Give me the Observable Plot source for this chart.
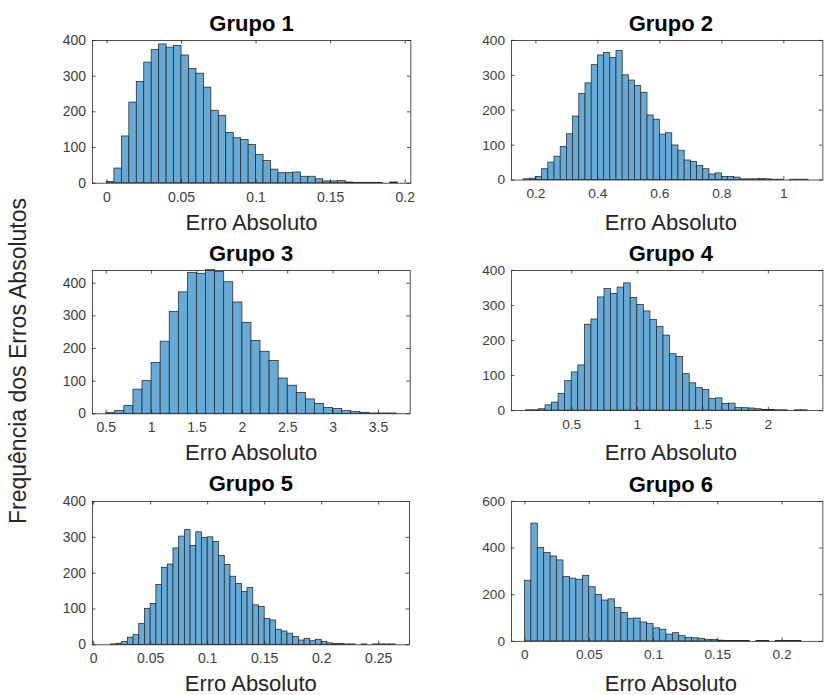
<!DOCTYPE html>
<html><head><meta charset="utf-8">
<script src="https://cdn.jsdelivr.net/npm/d3@7"></script>
<script src="https://cdn.jsdelivr.net/npm/@observablehq/plot@0.6"></script>
<style>
html,body{margin:0;padding:0;background:#fff;}
#root{position:relative;width:826px;height:695px;overflow:hidden;font-family:"Liberation Sans",Arial,Helvetica,sans-serif;}
.panel{position:absolute;}
</style></head><body><div id="root"></div>
<script>
// ---------- data ----------
const groupNames = ["Grupo 1", "Grupo 2", "Grupo 3", "Grupo 4", "Grupo 5", "Grupo 6"];
const xLabel = "Erro Absoluto";
const yLabel = "Frequência dos Erros Absolutos";

const grupo1BinStart = 0, grupo1BinWidth = 0.005;
const grupo1Counts = [3, 41, 131, 226, 284, 338, 373, 389, 380, 385, 358, 320, 307, 268, 203, 189, 141, 126, 121, 107, 79, 62, 38, 28, 28, 30, 18, 18, 11, 5, 5, 6, 2, 1, 1, 1, 1, 0, 2];

const grupo2BinStart = 0.16, grupo2BinWidth = 0.02;
const grupo2Counts = [2, 4, 9, 31, 50, 67, 95, 131, 182, 247, 277, 329, 357, 364, 350, 370, 300, 285, 269, 250, 185, 173, 130, 134, 99, 84, 56, 52, 40, 31, 16, 19, 9, 9, 7, 2, 2, 2, 3, 2, 1, 1, 0, 1, 1, 1];

const grupo3BinStart = 0.5, grupo3BinWidth = 0.1;
const grupo3Counts = [2, 9, 24, 74, 100, 156, 221, 312, 372, 432, 429, 440, 435, 403, 341, 278, 223, 190, 162, 108, 86, 64, 44, 30, 18, 15, 8, 6, 3, 1, 1, 1];

const grupo4BinStart = 0.15, grupo4BinWidth = 0.05;
const grupo4Counts = [1, 1, 4, 15, 23, 48, 84, 109, 129, 245, 260, 323, 347, 333, 351, 363, 321, 301, 283, 259, 239, 214, 161, 153, 104, 78, 64, 59, 33, 35, 19, 20, 8, 7, 6, 4, 2, 2, 1, 1, 0, 1, 1];

const grupo5BinStart = 0.015, grupo5BinWidth = 0.005;
const grupo5Counts = [1, 3, 8, 20, 27, 58, 100, 114, 167, 215, 224, 269, 302, 320, 276, 314, 298, 300, 287, 248, 223, 190, 170, 148, 159, 110, 106, 72, 68, 42, 37, 31, 22, 12, 16, 10, 14, 8, 4, 2, 2, 1, 1, 0, 1, 0, 1, 1, 1, 1];

const grupo6BinStart = 0, grupo6BinWidth = 0.005;
const grupo6Counts = [260, 505, 400, 379, 364, 347, 276, 269, 264, 281, 232, 199, 175, 180, 143, 122, 97, 98, 81, 74, 56, 50, 29, 35, 22, 15, 13, 11, 7, 6, 3, 2, 1, 1, 1, 0, 1, 1, 0, 1, 1, 1, 1];

const grupo1XTicks = [0, 0.05, 0.1, 0.15, 0.2];
const grupo2XTicks = [0.2, 0.4, 0.6, 0.8, 1];
const grupo3XTicks = [0.5, 1, 1.5, 2, 2.5, 3, 3.5];
const grupo4XTicks = [0.5, 1, 1.5, 2];
const grupo5XTicks = [0, 0.05, 0.1, 0.15, 0.2, 0.25];
const grupo6XTicks = [0, 0.05, 0.1, 0.15, 0.2];
const yTicks400 = [0, 100, 200, 300, 400];
const yTicks600 = [0, 200, 400, 600];

// ---------- layout ----------
const groups = [
  {start: grupo1BinStart, width: grupo1BinWidth, counts: grupo1Counts, xt: grupo1XTicks, yt: yTicks400, xd: [-0.0097, 0.2038], yd: [0, 400], fl: 92.3, fr: 410.7, ft: 40, fb: 182.7},
  {start: grupo2BinStart, width: grupo2BinWidth, counts: grupo2Counts, xt: grupo2XTicks, yt: yTicks400, xd: [0.121, 1.126], yd: [0, 400], fl: 511.7, fr: 830, ft: 40, fb: 182.7},
  {start: grupo3BinStart, width: grupo3BinWidth, counts: grupo3Counts, xt: grupo3XTicks, yt: yTicks400, xd: [0.349, 3.849], yd: [0, 439], fl: 92.3, fr: 410, ft: 270, fb: 413.3},
  {start: grupo4BinStart, width: grupo4BinWidth, counts: grupo4Counts, xt: grupo4XTicks, yt: yTicks400, xd: [0.04, 2.416], yd: [0, 400], fl: 511.7, fr: 830, ft: 270, fb: 413.3},
  {start: grupo5BinStart, width: grupo5BinWidth, counts: grupo5Counts, xt: grupo5XTicks, yt: yTicks400, xd: [-0.001, 0.277], yd: [0, 400], fl: 92.3, fr: 409.3, ft: 500.7, fb: 644},
  {start: grupo6BinStart, width: grupo6BinWidth, counts: grupo6Counts, xt: grupo6XTicks, yt: yTicks600, xd: [-0.0105, 0.2317], yd: [0, 600], fl: 511.7, fr: 830, ft: 501, fb: 644}
];

const root = document.getElementById("root");
const FONT = '"Liberation Sans", Arial, Helvetica, sans-serif';
const INK = "#262626";
const ml = 50, mr = 4, mt = 4, mb = 34, tl = 3.5;

groups.forEach((g, k) => {
  const bars = g.counts.map((c, i) => ({x1: g.start + i * g.width, x2: g.start + (i + 1) * g.width, count: c}));
  const fw = g.fr - g.fl, fh = g.fb - g.ft;
  const chart = Plot.plot({
    width: ml + fw + mr, height: mt + fh + mb,
    marginLeft: ml, marginRight: mr, marginTop: mt, marginBottom: mb,
    style: {fontFamily: FONT, fontSize: "14px", color: INK, background: "transparent", overflow: "visible"},
    x: {domain: g.xd},
    y: {domain: g.yd},
    marks: [
      Plot.rect(bars, {x1: "x1", x2: "x2", y1: () => 0, y2: "count", fill: "rgb(102,170,215)", stroke: INK, strokeWidth: 0.75}),
      Plot.tickX(g.xt, {x: d => d, stroke: INK, strokeWidth: 0.8, insetTop: fh - tl}),
      Plot.tickX(g.xt, {x: d => d, stroke: INK, strokeWidth: 0.8, insetBottom: fh - tl}),
      Plot.tickY(g.yt, {y: d => d, stroke: INK, strokeWidth: 0.8, insetRight: fw - tl}),
      Plot.tickY(g.yt, {y: d => d, stroke: INK, strokeWidth: 0.8, insetLeft: fw - tl}),
      Plot.frame({stroke: INK, strokeWidth: 0.8}),
      Plot.axisX(g.xt, {anchor: "bottom", tickSize: 0, tickPadding: 8.5, tickFormat: d => String(d), label: null, fill: "#404040"}),
      Plot.axisY(g.yt, {anchor: "left", tickSize: 0, tickPadding: 6.5, tickFormat: d => String(d), label: null, fill: "#404040"})
    ]
  });
  const div = document.createElement("div");
  div.className = "panel";
  div.style.left = (g.fl - ml) + "px";
  div.style.top = (g.ft - mt) + "px";
  div.appendChild(chart);
  root.appendChild(div);
});

// ---------- titles and labels ----------
const svg = d3.select(root).append("svg")
  .attr("width", 826).attr("height", 695)
  .style("position", "absolute").style("left", "0px").style("top", "0px")
  .style("font-family", FONT);

groups.forEach((g, k) => {
  const cx = (g.fl + g.fr) / 2;
  svg.append("text").attr("x", cx).attr("y", g.ft - 9.5)
    .attr("text-anchor", "middle").attr("font-size", 22).attr("font-weight", "bold").attr("fill", "#000")
    .text(groupNames[k]);
  svg.append("text").attr("x", cx).attr("y", g.fb + 47)
    .attr("text-anchor", "middle").attr("font-size", 22).attr("fill", INK)
    .text(xLabel);
});
svg.append("text").attr("transform", "translate(26,361) rotate(-90)")
  .attr("text-anchor", "middle").attr("font-size", 23).attr("fill", INK)
  .text(yLabel);
</script>
</body></html>
